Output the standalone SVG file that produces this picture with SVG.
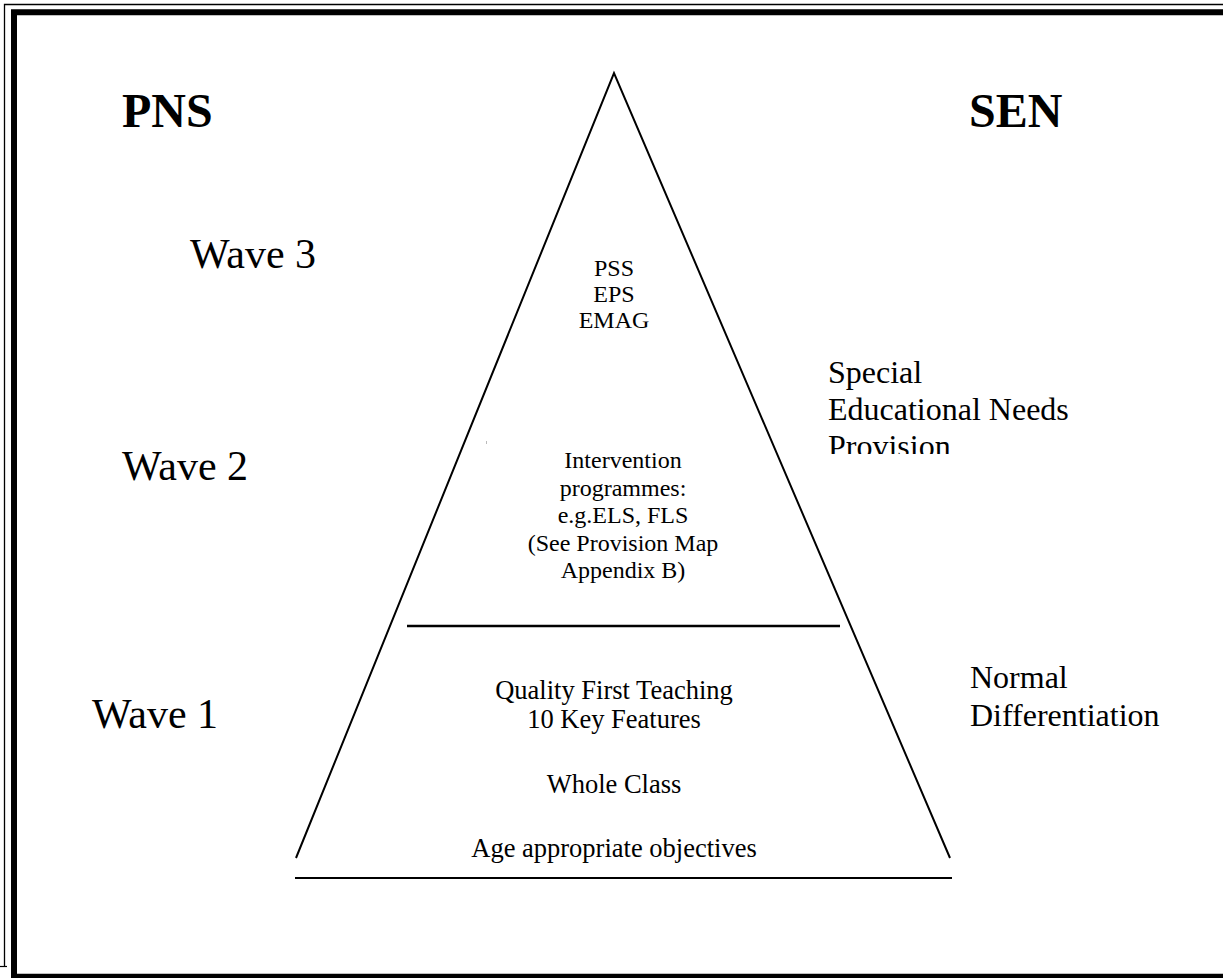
<svg xmlns="http://www.w3.org/2000/svg" width="1223" height="978" viewBox="0 0 1223 978">
<style>
.t{font-family:"Liberation Serif","Times New Roman",serif;fill:#000}
.hd{font-size:48px;font-weight:bold}
.wv{font-size:42px}
.sd{font-size:32px}
.in{font-size:24px;text-anchor:middle}
.lo{font-size:26.5px;text-anchor:middle}
.ln{stroke:#000;fill:none}
</style>
<defs>
<clipPath id="provClip"><rect x="800" y="340" width="300" height="114"/></clipPath>
</defs>
<rect width="1223" height="978" fill="#fff"/>
<g id="frame">
<path d="M4.5 966 V4.5 H1223" class="ln" stroke="#666" stroke-width="1.3"/>
<path d="M0 966.5 H7" class="ln" stroke="#666" stroke-width="1.2"/>
<path d="M14 978 V12.2 H1223" class="ln" stroke-width="6"/>
<path d="M14 976 H1223" class="ln" stroke-width="4.5"/>
</g>
<g id="pyramid">
<path d="M296 858 L614 73 L950 858" class="ln" stroke-width="2"/>
<path d="M295 878 H952" class="ln" stroke-width="2"/>
<rect x="486" y="441" width="1" height="3" fill="#bbb"/>
</g>
<g id="divider">
<path d="M407 626 H840" class="ln" stroke-width="2.5"/>
</g>
<g id="header-pns"><text class="t hd" x="122" y="127">PNS</text></g>
<g id="header-sen"><text class="t hd" x="969" y="127">SEN</text></g>
<g id="wave3"><text class="t wv" x="190" y="268">Wave 3</text></g>
<g id="wave2"><text class="t wv" x="122" y="480">Wave 2</text></g>
<g id="wave1"><text class="t wv" x="92" y="728">Wave 1</text></g>
<g id="sen-provision" clip-path="url(#provClip)">
<text class="t sd" x="828" y="383">Special</text>
<text class="t sd" x="828" y="420">Educational Needs</text>
<text class="t sd" x="828" y="457">Provision</text>
</g>
<g id="normal-diff">
<text class="t sd" x="970" y="688">Normal</text>
<text class="t sd" x="970" y="726">Differentiation</text>
</g>
<g id="tier3">
<text class="t in" x="614" y="276">PSS</text>
<text class="t in" x="614" y="302">EPS</text>
<text class="t in" x="614" y="328">EMAG</text>
</g>
<g id="tier2">
<text class="t in" x="623" y="468">Intervention</text>
<text class="t in" x="623" y="496">programmes:</text>
<text class="t in" x="623" y="523">e.g.ELS, FLS</text>
<text class="t in" x="623" y="551">(See Provision Map</text>
<text class="t in" x="623" y="578">Appendix B)</text>
</g>
<g id="tier1">
<text class="t lo" x="614" y="699">Quality First Teaching</text>
<text class="t lo" x="614" y="728">10 Key Features</text>
<text class="t lo" x="614" y="793">Whole Class</text>
<text class="t lo" x="614" y="857">Age appropriate objectives</text>
</g>
</svg>
